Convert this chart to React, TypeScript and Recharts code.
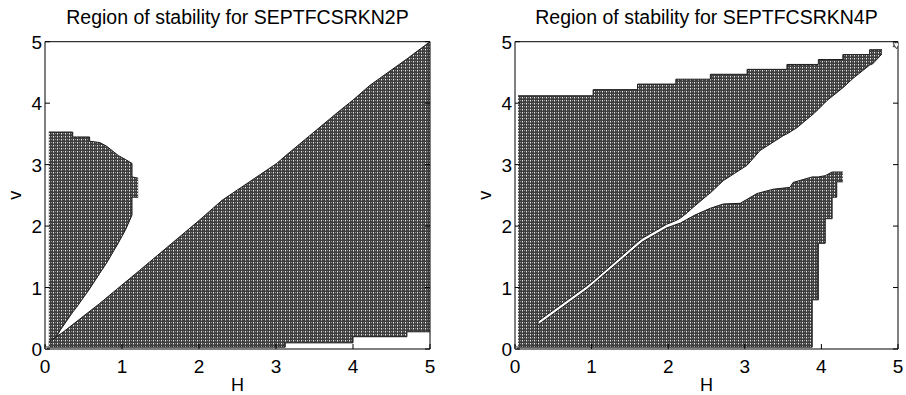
import React from "react";
import {
    ComposedChart,
    Area,
    Scatter,
    XAxis,
    YAxis,
} from "recharts";

// stability regions: each row is [H, lower v, upper v]
const blob2P: number[][] = [
    [0.05, 0.03, 3.53], [0.15, 0.2, 3.53], [0.2, 0.31, 3.53], [0.36, 0.6, 3.53],
    [0.36, 0.6, 3.45], [0.41, 0.68, 3.45], [0.58, 0.98, 3.45], [0.58, 0.98, 3.38],
    [0.71, 1.23, 3.36], [0.8, 1.4, 3.3], [0.95, 1.72, 3.15], [1.05, 1.95, 3.08],
    [1.13, 2.18, 3.02], [1.13, 2.47, 2.8], [1.21, 2.47, 2.78],
];

const wedge2P: number[][] = [
    [0.05, 0.03, 0.12], [0.22, 0.03, 0.26], [0.71, 0.03, 0.74], [1.23, 0.03, 1.28],
    [2.0, 0.03, 2.09], [2.3, 0.03, 2.42], [3.01, 0.03, 3.02], [3.12, 0.03, 3.14],
    [3.12, 0.1, 3.14], [3.83, 0.1, 3.88], [4.0, 0.1, 4.05], [4.0, 0.2, 4.05],
    [4.22, 0.2, 4.29], [4.7, 0.2, 4.72], [4.7, 0.28, 4.72], [5.0, 0.28, 5.0],
];

const upper4P: number[][] = [
    [0.04, 0.03, 4.12], [0.3, 0.03, 4.12], [0.3, 0.45, 4.12], [0.94, 1.03, 4.12],
    [1.02, 1.11, 4.12], [1.02, 1.11, 4.22], [1.6, 1.74, 4.22], [1.6, 1.74, 4.31],
    [1.66, 1.8, 4.31], [1.98, 2.03, 4.31], [2.1, 2.09, 4.31], [2.1, 2.09, 4.39],
    [2.16, 2.13, 4.39], [2.25, 2.22, 4.39], [2.33, 2.31, 4.39], [2.51, 2.5, 4.39],
    [2.55, 2.54, 4.39], [2.55, 2.54, 4.47], [2.72, 2.74, 4.47], [3.03, 2.99, 4.47],
    [3.03, 2.99, 4.55], [3.2, 3.23, 4.55], [3.5, 3.47, 4.55], [3.55, 3.5, 4.55],
    [3.55, 3.5, 4.63], [3.68, 3.6, 4.63], [3.9, 3.83, 4.63], [3.96, 3.9, 4.63],
    [3.96, 3.9, 4.71], [4.07, 4.04, 4.71], [4.28, 4.25, 4.71], [4.28, 4.25, 4.79],
    [4.41, 4.4, 4.79], [4.63, 4.62, 4.79], [4.63, 4.62, 4.87], [4.67, 4.64, 4.87],
    [4.79, 4.8, 4.87],
];

const lower4P: number[][] = [
    [0.3, 0.03, 0.39], [0.94, 0.03, 0.97], [1.66, 0.03, 1.74], [1.98, 0.03, 1.97],
    [2.16, 0.03, 2.05], [2.35, 0.03, 2.18], [2.55, 0.03, 2.29], [2.72, 0.03, 2.36],
    [2.94, 0.03, 2.37], [3.16, 0.03, 2.53], [3.37, 0.03, 2.6], [3.59, 0.03, 2.63],
    [3.63, 0.03, 2.71], [3.88, 0.03, 2.8], [3.88, 0.8, 2.8], [3.96, 0.8, 2.8],
    [3.96, 1.72, 2.8], [4.05, 1.72, 2.82], [4.05, 2.12, 2.82], [4.14, 2.12, 2.88],
    [4.14, 2.47, 2.88], [4.2, 2.47, 2.88], [4.2, 2.72, 2.88], [4.28, 2.72, 2.88],
];

// lone stable points
const dots2P = [{ h: 0, v: 0 }];
const dots4P = [{ h: 0, v: 0 }, { h: 4.98, v: 4.95 }];

const ticks = [0, 1, 2, 3, 4, 5];
const FONT = "'Liberation Sans', Arial, Helvetica, sans-serif";

const toRange = (rows: number[][]) => rows.map((r) => ({ h: r[0], range: [r[1], r[2]] }));

const BottomTick = (p: any) => (
    <g>
        <line x1={p.x} y1={p.y} x2={p.x} y2={p.y - 5} stroke="#000" />
        <text x={p.x} y={p.y + 24} textAnchor="middle" fontSize={19} fontFamily={FONT} fill="#000">
            {p.payload.value}
        </text>
    </g>
);
const LeftTick = (p: any) => (
    <g>
        <line x1={p.x} y1={p.y} x2={p.x + 5} y2={p.y} stroke="#000" />
        <text x={p.x - 3} y={p.y + 7} textAnchor="end" fontSize={19} fontFamily={FONT} fill="#000">
            {p.payload.value}
        </text>
    </g>
);
const TopTick = (p: any) => <line x1={p.x} y1={p.y} x2={p.x} y2={p.y + 5} stroke="#000" />;
const RightTick = (p: any) => <line x1={p.x} y1={p.y} x2={p.x - 5} y2={p.y} stroke="#000" />;

const star = (p: any) => {
    const { cx, cy } = p;
    const r = 4;
    const tri = (a0: number) =>
        [0, 1, 2]
            .map((k) => {
                const a = a0 + (k * 2 * Math.PI) / 3;
                return `${cx + r * Math.cos(a)},${cy + r * Math.sin(a)}`;
            })
            .join(" ");
    return (
        <g>
            <polygon points={tri(-Math.PI / 2)} fill="#fff" stroke="#222" strokeWidth={0.8} />
            <polygon points={tri(Math.PI / 2)} fill="#fff" stroke="#222" strokeWidth={0.8} />
        </g>
    );
};

interface PanelProps {
    id: string;
    title: string;
    regions: number[][][];
    dots: { h: number; v: number }[];
    margin: { top: number; right: number; bottom: number; left: number };
    rightWidth: number;
}

const Panel = ({ id, title, regions, dots, margin, rightWidth }: PanelProps) => (
    <ComposedChart width={453} height={395} margin={margin}>
        <defs>
            <pattern id={id} width={4} height={3} patternUnits="userSpaceOnUse">
                <rect width={4} height={3} fill="#3e3e3e" />
                <rect x={1} y={1} width={1} height={1} fill="#eeeeee" />
                <rect x={3} y={1} width={1} height={1} fill="#8c8c8c" />
                <rect x={1} y={2} width={1} height={1} fill="#8c8c8c" />
            </pattern>
        </defs>
        <XAxis
            xAxisId="x"
            type="number"
            dataKey="h"
            domain={[0, 5]}
            ticks={ticks}
            allowDataOverflow
            height={40}
            tickSize={0}
            tickMargin={0}
            tickLine={false}
            tick={BottomTick}
            axisLine={{ stroke: "#000" }}
            label={{
                content: (lp: any) => (
                    <text
                        x={lp.viewBox.x + lp.viewBox.width / 2}
                        y={lp.viewBox.y + 42}
                        textAnchor="middle"
                        fontSize={18}
                        fontFamily={FONT}
                    >
                        H
                    </text>
                ),
            }}
        />
        <XAxis
            xAxisId="xt"
            orientation="top"
            type="number"
            domain={[0, 5]}
            ticks={ticks}
            allowDataOverflow
            height={10}
            tickSize={0}
            tickMargin={0}
            tickLine={false}
            tick={TopTick}
            axisLine={{ stroke: "#000" }}
            label={{
                content: (lp: any) => (
                    <text
                        x={lp.viewBox.x + lp.viewBox.width / 2}
                        y={lp.viewBox.y - 8}
                        textAnchor="middle"
                        fontSize={19.5}
                        fontFamily={FONT}
                    >
                        {title}
                    </text>
                ),
            }}
        />
        <YAxis
            yAxisId="y"
            type="number"
            domain={[0, 5]}
            ticks={ticks}
            allowDataOverflow
            width={40}
            tickSize={0}
            tickMargin={0}
            tickLine={false}
            tick={LeftTick}
            axisLine={{ stroke: "#000" }}
            label={{
                content: (lp: any) => {
                    const x = lp.viewBox.x + 16;
                    const y = lp.viewBox.y + lp.viewBox.height / 2;
                    return (
                        <text
                            x={x}
                            y={y}
                            transform={`rotate(-90 ${x} ${y})`}
                            textAnchor="middle"
                            fontSize={18}
                            fontFamily={FONT}
                        >
                            v
                        </text>
                    );
                },
            }}
        />
        <YAxis
            yAxisId="yr"
            orientation="right"
            type="number"
            domain={[0, 5]}
            ticks={ticks}
            allowDataOverflow
            width={rightWidth}
            tickSize={0}
            tickMargin={0}
            tickLine={false}
            tick={RightTick}
            axisLine={{ stroke: "#000" }}
        />
        {regions.map((rows, i) => (
            <Area
                key={i}
                xAxisId="x"
                yAxisId="y"
                data={toRange(rows)}
                dataKey="range"
                type="linear"
                stroke="#1a1a1a"
                strokeWidth={1}
                fill={`url(#${id})`}
                fillOpacity={1}
                dot={false}
                activeDot={false}
                isAnimationActive={false}
            />
        ))}
        <Scatter
            xAxisId="x"
            yAxisId="y"
            data={dots}
            dataKey="v"
            shape={star}
            isAnimationActive={false}
        />
    </ComposedChart>
);

export default function App() {
    return (
        <div style={{ position: "absolute", left: 0, top: 0, width: 906, height: 395, background: "#fff" }}>
            <div style={{ position: "absolute", left: 0, top: 0 }}>
                <Panel
                    id="mesh2p"
                    title="Region of stability for SEPTFCSRKN2P"
                    regions={[blob2P, wedge2P]}
                    dots={dots2P}
                    margin={{ top: 31.7, right: 13, bottom: 6, left: 5 }}
                    rightWidth={10}
                />
            </div>
            <div style={{ position: "absolute", left: 453, top: 0 }}>
                <Panel
                    id="mesh4p"
                    title="Region of stability for SEPTFCSRKN4P"
                    regions={[upper4P, lower4P]}
                    dots={dots4P}
                    margin={{ top: 31.7, right: 3, bottom: 6, left: 22 }}
                    rightWidth={5}
                />
            </div>
        </div>
    );
}
